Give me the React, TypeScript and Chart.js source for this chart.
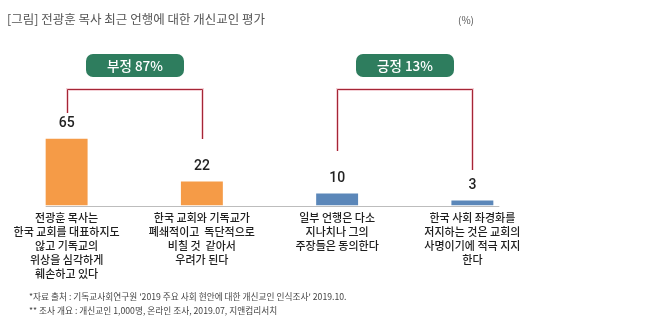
import React, { useEffect, useRef } from "react";
import { Chart, registerables } from "chart.js";

Chart.register(...registerables);

const titleText = "[그림] 전광훈 목사 최근 언행에 대한 개신교인 평가";
const unitText = "(%)";
const categories: string[][] = [
  ["전광훈 목사는", "한국 교회를 대표하지도", "않고 기독교의", "위상을 심각하게", "훼손하고 있다"],
  ["한국 교회와 기독교가", "폐쇄적이고  독단적으로", "비칠 것  같아서", "우려가 된다"],
  ["일부 언행은 다소", "지나치나 그의", "주장들은 동의한다"],
  ["한국 사회 좌경화를", "저지하는 것은 교회의", "사명이기에 적극 지지", "한다"],
];
const values = [65, 22, 10, 3];
const barColors = ["#F59B47", "#F59B47", "#5B87B9", "#5B87B9"];
const groupLabels = ["부정 87%", "긍정 13%"];
const groupMembers = [[0, 1], [2, 3]];
const footnotes = [
  "*자료 출처 : 기독교사회연구원 '2019 주요 사회 현안에 대한 개신교인 인식조사' 2019.10.",
  "** 조사 개요 : 개신교인 1,000명, 온라인 조사, 2019.07, 지앤컴리서치",
];

const OFF = 1; // canvas is shifted 1px left
const KR = "'Noto Sans CJK KR', 'Noto Sans', sans-serif";

const overlay = {
  id: "overlay",
  afterDatasetsDraw(chart: any) {
    const ctx = chart.ctx as CanvasRenderingContext2D;
    const meta = chart.getDatasetMeta(0);
    const bars = meta.data as any[];
    const xs = chart.scales.x;
    const base = chart.chartArea.bottom;
    ctx.save();

    // axis line
    ctx.strokeStyle = "#BDBDBD";
    ctx.lineWidth = 1;
    ctx.beginPath();
    ctx.moveTo(bars[0].x - bars[0].width / 2, Math.round(base) + 0.5);
    ctx.lineTo(bars[3].x + bars[3].width / 2 + 6, Math.round(base) + 0.5);
    ctx.stroke();

    // title
    ctx.textBaseline = "middle";
    ctx.textAlign = "left";
    ctx.fillStyle = "#555";
    ctx.font = `400 12.5px ${KR}`;
    ctx.fillText(titleText, 7 + OFF, 19);
    ctx.font = `400 10px ${KR}`;
    ctx.fillText(unitText, 458 + OFF, 20);

    // value labels
    ctx.textAlign = "center";
    ctx.fillStyle = "#222";
    ctx.font = `500 14px Roboto, sans-serif`;
    bars.forEach((b, i) => {
      ctx.fillText(String(values[i]), b.x, b.y - 15);
    });

    // category labels
    ctx.fillStyle = "#1E1E1E";
    ctx.font = `500 11px ${KR}`;
    categories.forEach((lines, i) => {
      const cx = xs.getPixelForValue(i);
      lines.forEach((ln, j) => ctx.fillText(ln, cx, 218 + j * 14));
    });

    // brackets and badges
    const legEnds = [[113, 139], [151, 170]];
    groupMembers.forEach((mem, g) => {
      const x1 = Math.round(bars[mem[0]].x) + 0.5;
      const x2 = Math.round(bars[mem[1]].x) + 0.5;
      const top = 89.5;
      const path = () => {
        ctx.beginPath();
        ctx.moveTo(x1, legEnds[g][0]);
        ctx.lineTo(x1, top);
        ctx.lineTo(x2, top);
        ctx.lineTo(x2, legEnds[g][1]);
      };
      ctx.strokeStyle = "rgba(235,170,180,0.55)";
      ctx.lineWidth = 3;
      path();
      ctx.stroke();
      ctx.strokeStyle = "#A52636";
      ctx.lineWidth = 1;
      path();
      ctx.stroke();

      const cx = (x1 + x2) / 2;
      const w = 98, h = 23;
      ctx.fillStyle = "#2E7D5E";
      ctx.beginPath();
      (ctx as any).roundRect(cx - w / 2, 54, w, h, 7);
      ctx.fill();
      ctx.fillStyle = "#FFFFFF";
      ctx.font = `500 13.5px ${KR}`;
      ctx.fillText(groupLabels[g], cx, 66);
    });

    // footnotes
    ctx.textAlign = "left";
    ctx.fillStyle = "#444";
    ctx.font = `400 8.7px ${KR}`;
    footnotes.forEach((f, i) => ctx.fillText(f, 29 + OFF, 297 + i * 14));

    ctx.restore();
  },
};

export default function App() {
  const ref = useRef<HTMLCanvasElement>(null);
  useEffect(() => {
    const chart = new Chart(ref.current!, {
      type: "bar",
      data: {
        labels: categories.map((c) => c.join(" ")),
        datasets: [
          {
            data: values,
            backgroundColor: barColors,
            base: -2,
            barPercentage: 0.31,
            categoryPercentage: 1,
          } as any,
        ],
      },
      options: {
        responsive: false,
        animation: false,
        devicePixelRatio: 1,
        layout: { padding: { left: 0, right: 125, top: 104, bottom: 116.5 } },
        plugins: { legend: { display: false }, tooltip: { enabled: false } },
        scales: {
          x: { display: false, offset: true, grid: { display: false } },
          y: { display: false, min: -2, max: 100 },
        },
      },
      plugins: [overlay],
    });
    return () => chart.destroy();
  }, []);
  return (
    <div style={{ position: "fixed", left: -OFF, top: 0, width: 666, height: 322, background: "#fff" }}>
      <canvas ref={ref} width={666} height={322} />
    </div>
  );
}
